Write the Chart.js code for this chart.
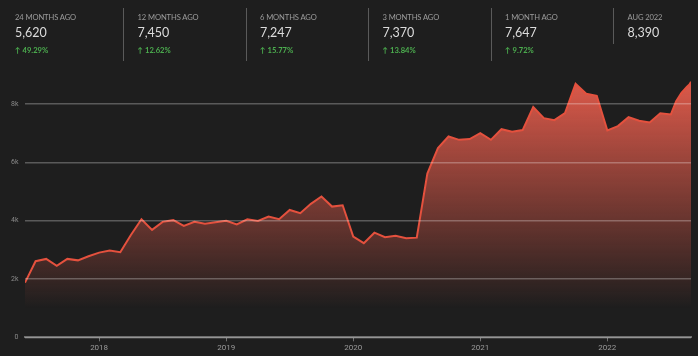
<!DOCTYPE html>
<html><head><meta charset="utf-8">
<script src="https://cdn.jsdelivr.net/npm/chart.js@4.4.0/dist/chart.umd.min.js"></script>
<style>
html,body{margin:0;padding:0;background:#1e1e1e;width:698px;height:356px;overflow:hidden;}
#head{position:absolute;left:0;top:0;width:698px;height:70px;font-family:Lato,"Open Sans",sans-serif;}
.div{position:absolute;top:8px;width:1px;height:53px;background:#5a5a5a;}
.lbl{position:absolute;top:12px;font-size:7.6px;color:#9c9c9c;letter-spacing:-0.1px;line-height:10px;white-space:nowrap;}
.val{position:absolute;top:25px;font-size:12.5px;color:#dcdcdc;line-height:16px;white-space:nowrap;}
.chg{position:absolute;top:45px;font-size:7.6px;color:#4cae4f;font-weight:bold;line-height:10px;white-space:nowrap;}
#cwrap{position:absolute;left:0;top:0;width:698px;height:356px;}
</style></head>
<body>
<div id="cwrap"><canvas id="c" width="698" height="356"></canvas></div>
<div id="head"></div>
<script>
// header stats
const statLabels = ['24 MONTHS AGO','12 MONTHS AGO','6 MONTHS AGO','3 MONTHS AGO','1 MONTH AGO','AUG 2022'];
const statValues = ['5,620','7,450','7,247','7,370','7,647','8,390'];
const statChanges = ['49.29%','12.62%','15.77%','13.84%','9.72%',null];

// series: x = months relative to Jan 2018
const months = [-7,-6,-5,-4,-3,-2,-1,0,1,2,3,4,5,6,7,8,9,10,11,12,13,14,15,16,17,18,19,20,21,22,23,24,25,26,27,28,29,30,31,32,33,34,35,36,37,38,39,40,41,42,43,44,45,46,47,48,49,50,51,52,53,54,54.5,55,55.25,55.5,55.75,55.9];
const values = [1875,2610,2690,2450,2690,2640,2780,2905,2975,2920,3510,4050,3685,3960,4020,3820,3965,3900,3950,3995,3870,4050,3995,4140,4050,4370,4260,4580,4830,4485,4530,3455,3230,3590,3435,3480,3400,3420,5620,6490,6890,6775,6800,7005,6775,7140,7050,7110,7900,7520,7450,7690,8700,8355,8285,7095,7247,7555,7430,7370,7690,7647,8100,8390,8490,8590,8670,8770];

const yearTicks = [0,12,24,36,48];
const yearLabels = ['2018','2019','2020','2021','2022'];
const yTicks = [0,2000,4000,6000,8000];
const yTickLabels = ['0','2k','4k','6k','8k'];

// build header
const head = document.getElementById('head');
statLabels.forEach((l,i)=>{
  const x = 15 + 122.5*i;
  if(i>0){
    const d=document.createElement('div');d.className='div';
    d.style.left=(x-14.5)+'px';
    if(statChanges[i]===null) d.style.height='36px';
    head.appendChild(d);
  }
  const a=document.createElement('div');a.className='lbl';a.style.left=x+'px';a.textContent=l;head.appendChild(a);
  const b=document.createElement('div');b.className='val';b.style.left=x+'px';b.textContent=statValues[i];head.appendChild(b);
  if(statChanges[i]!==null){
    const c=document.createElement('div');c.className='chg';c.style.left=x+'px';c.textContent='\u2191 '+statChanges[i];head.appendChild(c);
  }
});

const pts = months.map((m,i)=>({x:m,y:values[i]}));

new Chart(document.getElementById('c'),{
  type:'line',
  data:{datasets:[{
    data:pts,
    borderColor:'#e4513e',
    borderWidth:2,
    pointRadius:0,
    tension:0,
    fill:'origin',
    backgroundColor:(ctx)=>{
      const ch=ctx.chart; const ca=ch.chartArea;
      if(!ca) return 'rgba(228,92,76,0.5)';
      const g=ch.ctx.createLinearGradient(0,ca.top+5,0,ca.bottom-29);
      g.addColorStop(0,'rgba(228,92,76,0.97)');
      g.addColorStop(1,'rgba(228,92,76,0)');
      return g;
    }
  }]},
  options:{
    responsive:false,animation:false,
    layout:{padding:{top:75,right:7,left:0,bottom:0}},
    plugins:{legend:{display:false},tooltip:{enabled:false}},
    scales:{
      x:{type:'linear',min:months[0],max:months[months.length-1],
        afterBuildTicks:(s)=>{s.ticks=yearTicks.map(v=>({value:v}));},
        afterFit:(s)=>{s.height=18.7;},
        grid:{display:true,drawOnChartArea:false,drawTicks:true,tickLength:4,color:'#707070',lineWidth:1},
        border:{display:true,color:'#6e6e6e',width:2},
        ticks:{color:'#9a9a9a',font:{family:'Roboto',size:8},padding:2,maxRotation:0,
          callback:(v)=>{const k=yearTicks.indexOf(v);return k>=0?yearLabels[k]:'';}}
      },
      y:{min:0,max:9000,
        afterBuildTicks:(s)=>{s.ticks=yTicks.map(v=>({value:v}));},
        afterFit:(s)=>{s.width=25;},
        grid:{color:'rgba(255,255,255,0.27)',lineWidth:1.5,drawTicks:false,z:1},
        border:{display:false},
        ticks:{color:'#8a8a8a',font:{family:'Roboto',size:7},padding:6.5,
          callback:(v)=>{const k=yTicks.indexOf(v);return k>=0?yTickLabels[k]:'';}}
      }
    }
  }
});
</script>
</body></html>
